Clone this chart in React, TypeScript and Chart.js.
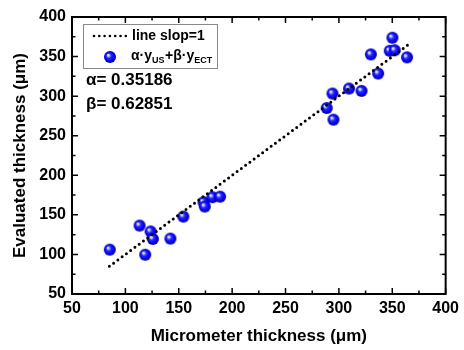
import React, { useEffect, useRef } from "react";
import { Chart, registerables } from "chart.js";

Chart.register(...registerables);

const micrometer = [85.4, 113.3, 118.6, 123.6, 125.7, 142.2, 154.3, 173.2, 174.4, 181.6, 188.7, 288.6, 294.0, 294.9, 309.5, 321.2, 329.9, 336.8, 347.6, 350.1, 352.3, 363.8];
const evaluated = [106, 136.4, 99.6, 129, 119.5, 120, 147.8, 166, 160.5, 172.3, 173, 285, 303.3, 270.3, 309.6, 306.6, 352.7, 328.6, 357.3, 373.8, 358, 349];
const slopeLineX = [85, 365];
const xTicks = [50, 100, 150, 200, 250, 300, 350, 400];
const yTicks = [50, 100, 150, 200, 250, 300, 350, 400];
const alphaText = "α= 0.35186";
const betaText = "β= 0.62851";
const legendLine = "line slop=1";

const FONT = "'Liberation Sans', Arial, sans-serif";

function makeSphere(r: number): HTMLCanvasElement {
  const c = document.createElement("canvas");
  const s = Math.ceil(r * 2 + 2);
  c.width = s;
  c.height = s;
  const ctx = c.getContext("2d")!;
  const cx = s / 2, cy = s / 2;
  const g = ctx.createRadialGradient(cx - r * 0.35, cy - r * 0.35, 0, cx, cy, r);
  g.addColorStop(0, "#ffffff");
  g.addColorStop(0.18, "#c8c8ff");
  g.addColorStop(0.4, "#2a2aff");
  g.addColorStop(0.8, "#0000e8");
  g.addColorStop(1, "#00009a");
  ctx.fillStyle = g;
  ctx.beginPath();
  ctx.arc(cx, cy, r, 0, Math.PI * 2);
  ctx.fill();
  return c;
}

export default function App() {
  const ref = useRef<HTMLCanvasElement | null>(null);
  useEffect(() => {
    document.body.style.margin = "0";
    const sphere = makeSphere(6);
    const decor = {
      id: "decor",
      afterDraw(chart: any) {
        const { ctx, chartArea: a, scales } = chart;
        const xs = scales.x, ys = scales.y;
        ctx.save();
        ctx.strokeStyle = "#000";
        ctx.lineWidth = 2;
        ctx.strokeRect(a.left, a.top, a.right - a.left, a.bottom - a.top);
        ctx.lineWidth = 1.5;
        for (let v = 50; v <= 400; v += 25) {
          const major = v % 50 === 0;
          const len = major ? 6 : 3.5;
          const px = xs.getPixelForValue(v);
          ctx.beginPath();
          ctx.moveTo(px, a.bottom);
          ctx.lineTo(px, a.bottom - len);
          ctx.moveTo(px, a.top);
          ctx.lineTo(px, a.top + len);
          const py = ys.getPixelForValue(v);
          ctx.moveTo(a.left, py);
          ctx.lineTo(a.left + len, py);
          ctx.moveTo(a.right, py);
          ctx.lineTo(a.right - len, py);
          ctx.stroke();
        }
        // legend box
        const lx = 83, ly = 24, lw = 134, lh = 44;
        ctx.fillStyle = "#fff";
        ctx.fillRect(lx, ly, lw, lh);
        ctx.strokeStyle = "#8a8a8a";
        ctx.lineWidth = 1;
        ctx.strokeRect(lx + 0.5, ly + 0.5, lw, lh);
        ctx.fillStyle = "#000";
        for (let i = 0; i < 7; i++) {
          ctx.beginPath();
          ctx.arc(94 + i * 5.3, 36, 1.3, 0, Math.PI * 2);
          ctx.fill();
        }
        ctx.textBaseline = "middle";
        ctx.textAlign = "left";
        ctx.font = `bold 14px ${FONT}`;
        ctx.fillText(legendLine, 132, 36);
        ctx.drawImage(sphere, 110 - sphere.width / 2, 57 - sphere.height / 2);
        let tx = 131;
        const big = `bold 14px ${FONT}`;
        const sub = `bold 9px ${FONT}`;
        const parts: [string, boolean][] = [["α·y", false], ["US", true], ["+β·y", false], ["ECT", true]];
        for (const [t, isSub] of parts) {
          ctx.font = isSub ? sub : big;
          ctx.fillText(t, tx, isSub ? 61 : 56);
          tx += ctx.measureText(t).width + (isSub ? 0.5 : 0);
        }
        ctx.font = `bold 17px ${FONT}`;
        ctx.fillText(alphaText, 86, 80);
        ctx.fillText(betaText, 86, 104);
        ctx.restore();
      },
    };
    const chart = new Chart(ref.current!, {
      type: "scatter",
      data: {
        datasets: [
          {
            type: "line",
            label: legendLine,
            data: slopeLineX.map((v) => ({ x: v, y: v })),
            borderColor: "#000",
            borderWidth: 3,
            borderDash: [0, 5.3],
            borderCapStyle: "round",
            pointRadius: 0,
            fill: false,
          } as any,
          {
            label: "fit",
            data: micrometer.map((x, i) => ({ x, y: evaluated[i] })),
            pointStyle: sphere as any,
            pointRadius: 6,
          },
        ],
      },
      options: {
        responsive: false,
        animation: false,
        layout: { padding: { top: 17, right: 16, left: 0, bottom: 0 } },
        plugins: { legend: { display: false }, tooltip: { enabled: false } },
        scales: {
          x: {
            type: "linear",
            min: 50,
            max: 400,
            afterBuildTicks: (s: any) => {
              s.ticks = xTicks.map((v) => ({ value: v }));
            },
            afterFit: (s: any) => {
              s.height = 56;
            },
            grid: { display: false, drawTicks: false },
            border: { display: false },
            ticks: { color: "#000", font: { family: FONT, size: 16, weight: "bold" }, padding: 5, maxRotation: 0 },
            title: {
              display: true,
              text: "Micrometer thickness (μm)",
              color: "#000",
              font: { family: FONT, size: 17, weight: "bold" },
              padding: { top: 4, bottom: 3 },
            },
          },
          y: {
            type: "linear",
            min: 50,
            max: 400,
            afterBuildTicks: (s: any) => {
              s.ticks = yTicks.map((v) => ({ value: v }));
            },
            afterFit: (s: any) => {
              s.width = 72;
            },
            grid: { display: false, drawTicks: false },
            border: { display: false },
            ticks: { color: "#000", font: { family: FONT, size: 16, weight: "bold" }, padding: 6 },
            title: {
              display: true,
              text: "Evaluated thickness (μm)",
              color: "#000",
              font: { family: FONT, size: 17, weight: "bold" },
              padding: { top: 10, bottom: 4 },
            },
          },
        },
      },
      plugins: [decor],
    });
    return () => chart.destroy();
  }, []);
  return <canvas ref={ref} width={464} height={350} style={{ display: "block" }} />;
}
